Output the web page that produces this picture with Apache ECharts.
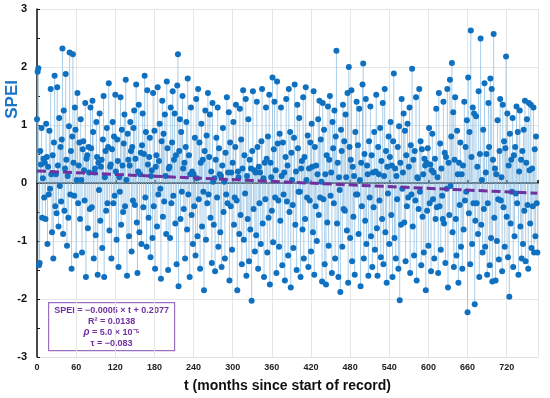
<!DOCTYPE html>
<html>
<head>
<meta charset="utf-8">
<script src="https://cdn.jsdelivr.net/npm/echarts@6/dist/echarts.min.js"></script>
<style>html,body{margin:0;padding:0;background:#fff}#c{width:550px;height:398px}</style>
</head>
<body>
<div id="c"></div>
<script>
// Monthly SPEI values, t = 0 .. 767 (one row per 12 months)
const spei = [
1.10,1.92,1.98,-1.42,-1.38,0.55,0.32,0.95,-0.60,0.08,0.42,-0.25,
0.35,-0.62,1.02,0.45,-1.05,0.28,-0.20,0.90,-0.10,1.62,0.15,-0.85,
0.48,-1.30,0.70,1.85,-0.40,0.15,-0.52,1.65,0.30,-0.75,1.12,-0.05,
0.62,-0.32,0.75,2.32,-0.88,1.25,-0.48,0.25,1.88,0.40,-1.08,0.12,
-0.60,0.98,2.25,-0.20,0.55,-1.48,0.80,2.22,0.35,-0.22,1.30,0.92,
-1.25,0.05,1.55,-0.35,0.30,0.70,-0.62,1.10,0.05,-1.20,0.58,0.72,
0.22,-0.30,1.38,-1.62,0.42,0.48,-0.78,0.62,0.18,-0.45,1.30,0.60,
-0.42,1.42,0.88,-1.30,0.18,0.25,-0.90,1.05,0.45,-1.58,0.35,-0.12,
1.20,-0.65,0.28,0.40,-1.12,0.75,1.50,-1.62,0.10,0.55,-0.48,0.95,
-0.35,0.62,1.72,-0.82,0.28,0.32,-1.30,0.58,1.05,-0.35,0.80,-0.22,
1.52,0.20,-0.98,0.75,0.38,-1.45,0.10,-0.15,1.48,-0.72,0.92,0.30,
-0.50,0.68,1.18,-0.40,1.78,0.05,-1.60,0.85,0.40,-0.92,0.30,1.05,
0.55,-1.18,0.62,-0.30,0.95,1.25,-0.38,0.42,1.70,-0.68,-1.55,0.20,
1.35,-0.85,0.15,0.52,-1.05,0.65,1.20,-0.42,0.50,1.85,-0.25,0.88,
-1.10,1.60,0.32,-0.60,0.45,0.78,-1.28,0.12,0.22,-0.95,1.55,-0.40,
0.90,-1.48,0.28,0.48,-0.75,1.65,-0.20,0.38,1.02,-0.10,-1.65,0.72,
1.42,-0.58,0.85,-0.32,1.18,0.12,-0.88,1.75,0.60,-1.50,0.25,0.28,
-0.95,1.30,-0.35,0.70,1.58,-0.22,0.40,1.20,-0.70,0.48,-1.40,1.68,
2.22,-1.78,0.55,1.10,-0.62,0.88,-0.15,1.50,0.25,-0.45,0.35,-1.30,
0.62,1.05,-0.80,1.80,-0.20,0.48,-1.62,0.15,1.30,-0.55,0.20,-1.05,
0.15,-0.40,0.78,-1.25,1.45,0.08,-0.92,1.62,-0.28,0.70,-1.48,0.35,
1.02,-0.75,0.40,-0.15,-1.85,0.55,1.25,-0.98,0.82,-0.35,1.55,-0.20,
0.45,1.18,-0.60,0.20,-1.38,1.38,0.02,-0.72,0.08,-1.52,0.40,0.78,
-0.25,1.30,-1.10,0.60,0.15,-0.85,0.12,-1.45,0.30,0.95,-0.50,0.02,
-1.30,0.52,-0.20,1.48,-0.35,0.18,1.22,-1.68,0.70,-0.40,0.18,-1.15,
0.35,1.05,-0.72,-0.25,0.62,1.35,-0.30,-1.85,0.20,0.10,-0.88,1.28,
-0.55,0.75,-1.40,0.25,1.60,-0.98,0.48,-0.18,1.45,-1.60,0.12,-0.62,
1.10,-1.35,0.40,-0.80,0.25,-2.03,0.55,1.58,-0.45,0.22,-1.18,0.18,
-0.90,1.40,0.62,-1.48,0.28,-0.35,0.18,-1.05,0.72,1.62,-0.70,0.08,
-1.62,0.35,-0.28,1.30,0.42,-1.20,0.80,-0.60,1.52,-1.75,0.35,0.10,
-0.48,1.82,-1.02,0.58,1.40,-0.25,0.22,-1.55,1.75,0.68,-0.30,-1.10,
0.85,-0.65,1.30,0.12,-1.42,0.70,-0.20,0.18,-1.68,0.45,1.45,-0.32,
0.30,-1.25,1.62,-0.50,0.88,-1.80,0.52,0.05,-0.38,-1.12,0.78,1.70,
-0.72,0.20,-1.50,1.35,0.60,-0.15,1.12,-0.15,-1.62,0.25,0.38,-0.80,
1.48,-1.30,0.45,-0.62,1.65,0.05,-0.25,0.82,-1.45,0.25,-0.30,0.70,
-1.18,1.02,0.28,-0.85,1.58,-1.58,0.62,-0.40,0.30,-1.00,0.15,1.10,
-0.55,1.42,-0.25,0.75,0.02,-1.70,1.38,-0.28,0.92,-1.40,0.15,-1.75,
0.48,-0.68,1.32,-1.08,0.40,1.50,-0.22,0.18,-1.55,1.05,0.60,-0.35,
1.25,-1.30,0.80,2.28,-0.70,0.35,-1.62,0.10,-0.12,-1.88,0.92,0.55,
-1.10,1.35,-0.45,0.72,-0.48,1.18,0.10,-0.82,1.55,-1.72,2.00,0.62,
-0.95,0.40,1.60,-1.35,0.28,-0.58,0.12,-1.58,0.88,-0.20,1.40,-0.20,
0.65,-0.88,1.28,0.05,-1.78,0.35,-0.40,1.70,2.06,-1.30,0.50,-0.65,
1.45,-1.05,0.30,0.15,-1.60,0.72,-0.25,1.32,-0.92,0.48,-1.45,0.18,
-0.42,0.88,-1.15,0.20,1.52,-0.78,-1.60,0.62,0.15,-0.30,0.95,-1.28,
0.38,-0.62,1.38,-1.40,0.12,1.62,-0.85,0.55,-1.72,0.28,-0.18,0.80,
-1.05,0.45,1.05,-0.55,0.30,-1.62,0.72,1.89,-0.95,0.25,-1.30,0.12,
-0.28,0.62,-1.48,0.98,-2.02,0.35,-0.72,1.45,-0.10,0.18,1.20,-0.68,
0.90,-1.35,0.48,-0.40,1.02,-0.25,0.28,1.30,-1.55,0.65,-0.20,1.97,
-0.75,0.40,-1.25,0.55,-0.30,1.48,-1.68,0.10,0.08,-0.45,1.62,-0.15,
0.72,-1.42,0.58,-0.58,0.15,-1.20,0.42,0.30,-1.85,0.35,-0.48,0.60,
-1.08,0.95,-0.35,0.32,-1.52,0.22,0.85,-0.28,0.18,-1.30,0.42,-0.62,
1.28,-0.42,0.10,-1.55,1.55,-0.40,0.68,-1.15,0.25,-0.22,-0.62,1.40,
-0.70,0.52,-1.38,0.45,-0.10,1.62,-1.80,0.35,-0.55,1.78,-0.05,0.80,
2.07,-0.85,1.22,-1.45,0.40,1.48,-0.62,-1.25,0.90,0.15,-1.72,0.35,
-0.38,0.70,-1.10,0.15,-1.48,0.30,-0.80,1.40,-0.30,0.62,-0.15,1.08,
-2.23,1.82,-0.52,0.88,-1.40,2.63,0.45,-1.05,1.30,-0.35,1.20,-2.09,
-0.65,1.15,-0.35,0.28,-0.88,1.58,-1.62,0.50,2.49,-0.72,0.05,-1.20,
0.92,-0.45,1.72,-1.10,0.18,0.50,-1.58,-0.35,1.38,0.62,-1.42,1.80,
-0.95,1.62,-1.70,0.40,2.57,-0.60,0.25,-1.68,0.15,-1.00,1.08,-0.28,
-1.32,0.55,1.45,-0.30,0.10,-1.52,1.35,-0.42,0.72,-1.10,0.60,2.18,
-0.58,1.20,-1.28,0.30,-1.96,0.85,-0.70,0.40,-0.15,1.12,-1.45,0.48,
-0.92,0.62,-0.18,1.32,-0.35,0.88,-1.58,0.20,1.25,-0.75,0.40,-1.30,
0.55,-1.05,0.92,-0.48,1.42,-1.35,0.35,1.10,-0.38,-1.48,1.38,0.22,
-0.70,1.35,-1.12,0.25,-0.40,1.30,-1.20,0.58,-0.92,0.80,-0.35,-1.20
];
// Linear trend: SPEI = slope * t + intercept
const trendSlope = -0.0005;
const trendIntercept = 0.2077;
const statsLines = ['{b|SPEI = \u22120.0005 \u00d7 t + 0.2077}', '{b|R\u00b2 = 0.0138}', '{i|\u03c1}{b| = 5.0 \u00d7 10\u207b\u2075}', '{b|\u03c4 = \u22120.083}'];
const xMax = 768;

const pts = spei.map((v, t) => [t, v]);
const trend = [[0, trendIntercept], [xMax - 1, trendIntercept + trendSlope * (xMax - 1)]];
const purple = '#7030A0';
const font = 'Arial, Liberation Sans';

const chart = echarts.init(document.getElementById('c'), null, {renderer: 'canvas'});
chart.setOption({
  animation: false,
  backgroundColor: '#fff',
  grid: {left: 37, right: 12, top: 9, bottom: 37, containLabel: false},
  xAxis: [{
    type: 'value', min: 0, max: xMax, interval: 60,
    name: 't (months since start of record)', nameLocation: 'middle', nameGap: 22,
    nameTextStyle: {fontFamily: font, fontWeight: 'bold', fontSize: 14, color: '#111'},
    axisLine: {onZero: false, lineStyle: {color: '#e0e0e0'}},
    axisTick: {show: false},
    axisLabel: {showMaxLabel: false, fontFamily: font, fontWeight: 'bold', fontSize: 9, color: '#222', margin: 6},
    splitLine: {show: true, lineStyle: {color: '#e6e6e6', width: 1}}
  }, {
    type: 'value', min: 0, max: xMax, interval: 60, position: 'top',
    axisLine: {onZero: true, onZeroAxisIndex: 0, lineStyle: {color: '#111', width: 1.5}},
    axisTick: {show: true, inside: false, length: 3, lineStyle: {color: '#111', width: 1.5}},
    axisLabel: {show: false}, splitLine: {show: false}
  }],
  yAxis: {
    type: 'value', min: -3, max: 3, interval: 1,
    axisLine: {show: true, onZero: false, lineStyle: {color: '#111', width: 1.5}},
    axisTick: {show: true, inside: true, length: 3, lineStyle: {color: '#111'}},
    minorTick: {show: true, splitNumber: 2, length: 3, lineStyle: {color: '#111'}},
    axisLabel: {fontFamily: font, fontWeight: 'bold', fontSize: 11, color: '#111', margin: 10},
    splitLine: {show: true, lineStyle: {color: '#e6e6e6', width: 1}}
  },
  series: [{
    type: 'bar', data: pts, barWidth: 1, xAxisIndex: 0,
    itemStyle: {color: 'rgba(140,190,225,0.75)'}, silent: true
  }, {
    type: 'scatter', data: pts, symbolSize: 6, xAxisIndex: 0,
    itemStyle: {color: '#1070c0', opacity: 1}, z: 3
  }, {
    type: 'line', data: trend, symbol: 'none', xAxisIndex: 0,
    lineStyle: {color: purple, width: 3, type: [9, 4]}, z: 5
  }],
  graphic: [{
    type: 'text', left: 4, top: 80, rotation: Math.PI / 2,
    style: {text: 'SPEI', fill: '#1a75c9', fontFamily: font, fontWeight: 'bold', fontSize: 17, align: 'center'}
  }, {
    type: 'group', left: 48, top: 302,
    children: [{
      type: 'rect', shape: {x: 0, y: 0, width: 126, height: 48},
      style: {fill: '#fff', stroke: '#9b6fc0', lineWidth: 1.2}
    }, {
      type: 'text', x: 63, y: 2,
      style: {
        text: statsLines.join('\n'), fill: purple, align: 'center',
        fontFamily: font, fontWeight: 'bold', fontSize: 9,
        rich: {
          b: {fontWeight: 'bold', fontSize: 9, fill: purple, fontFamily: font, lineHeight: 11},
          i: {fontStyle: 'italic', fontWeight: 'bold', fontSize: 10, fill: purple, fontFamily: font, lineHeight: 11}
        }
      }
    }]
  }]
});
</script>
</body>
</html>
